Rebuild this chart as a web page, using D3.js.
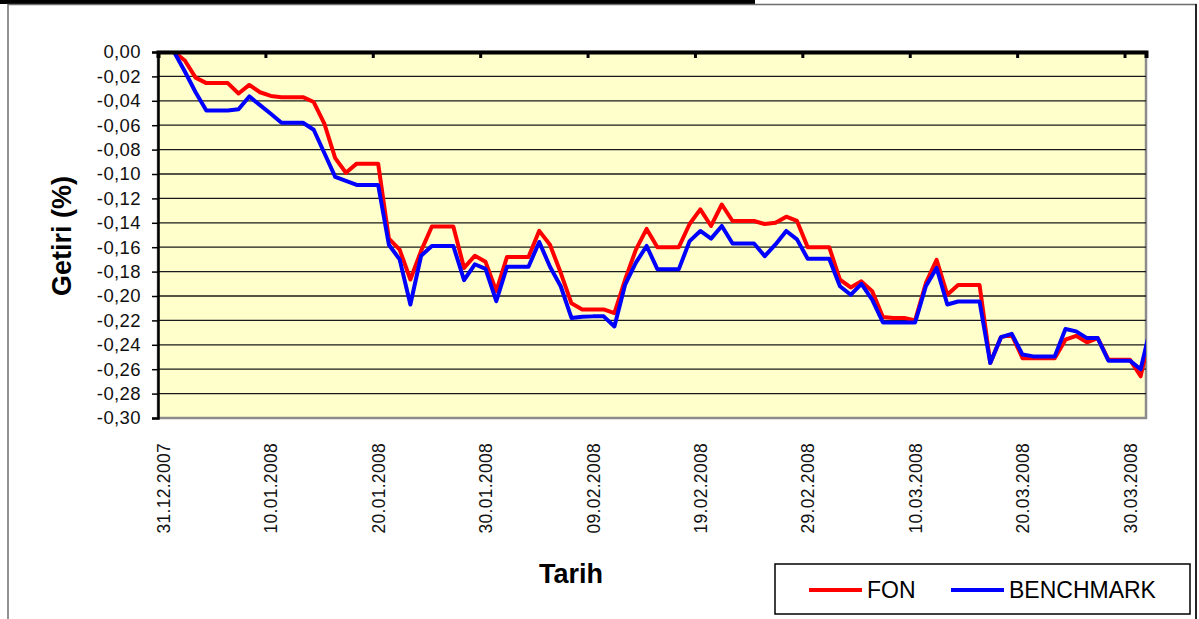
<!DOCTYPE html>
<html>
<head>
<meta charset="utf-8">
<script src="https://cdn.jsdelivr.net/npm/d3@7"></script>
<style>
  body { margin: 0; background: #fff; }
  svg { display: block; font-family: "Liberation Sans", Arial, sans-serif; }
</style>
</head>
<body>
<svg id="chart" width="1199" height="619"></svg>
<script>
// daily values, 30.12.2007 .. 01.04.2008 (first and last fall just outside the axis)
const firstDay = new Date(2007, 11, 30);
const lastDay = new Date(2008, 3, 1);

const fon = [
  0, 0, 0, -0.007, -0.021, -0.0255, -0.0255, -0.0255, -0.034, -0.027,
  -0.033, -0.036, -0.037, -0.037, -0.037, -0.041, -0.059, -0.087, -0.099, -0.0915,
  -0.0915, -0.0915, -0.153, -0.162, -0.1865, -0.163, -0.143, -0.143, -0.143, -0.177,
  -0.167, -0.172, -0.196, -0.168, -0.168, -0.168, -0.1466, -0.158, -0.181, -0.206,
  -0.211, -0.211, -0.211, -0.214, -0.1865, -0.162, -0.145, -0.160, -0.160, -0.160,
  -0.141, -0.129, -0.1426, -0.125, -0.1385, -0.1385, -0.1385, -0.141, -0.140, -0.135,
  -0.1385, -0.160, -0.160, -0.160, -0.1865, -0.193, -0.188, -0.196, -0.2173, -0.218,
  -0.218, -0.220, -0.1895, -0.1704, -0.199, -0.191, -0.191, -0.191, -0.255, -0.2337,
  -0.2318, -0.251, -0.251, -0.251, -0.251, -0.2358, -0.2326, -0.238, -0.2345, -0.2522,
  -0.2522, -0.2522, -0.2658, -0.228
];

const benchmark = [
  0, 0, 0, -0.016, -0.033, -0.048, -0.048, -0.048, -0.047, -0.0364,
  -0.0435, -0.0506, -0.058, -0.058, -0.058, -0.0637, -0.083, -0.1024, -0.1057, -0.109,
  -0.109, -0.109, -0.158, -0.170, -0.207, -0.167, -0.159, -0.159, -0.159, -0.187,
  -0.174, -0.1777, -0.2043, -0.176, -0.176, -0.176, -0.1557, -0.176, -0.192, -0.218,
  -0.217, -0.2167, -0.2167, -0.225, -0.1906, -0.1727, -0.159, -0.178, -0.178, -0.178,
  -0.155, -0.1467, -0.153, -0.1426, -0.157, -0.157, -0.157, -0.1673, -0.1577, -0.1467,
  -0.1536, -0.1695, -0.1695, -0.1695, -0.192, -0.199, -0.190, -0.203, -0.2217, -0.2217,
  -0.2217, -0.2217, -0.192, -0.177, -0.207, -0.2045, -0.2045, -0.2045, -0.255, -0.2337,
  -0.231, -0.248, -0.2495, -0.2495, -0.2495, -0.227, -0.229, -0.2345, -0.2345, -0.253,
  -0.253, -0.253, -0.260, -0.223
];

const xTickLabels = ['31.12.2007', '10.01.2008', '20.01.2008', '30.01.2008', '09.02.2008',
  '19.02.2008', '29.02.2008', '10.03.2008', '20.03.2008', '30.03.2008'];
const yTicks = [0, -0.02, -0.04, -0.06, -0.08, -0.10, -0.12, -0.14, -0.16, -0.18,
  -0.20, -0.22, -0.24, -0.26, -0.28, -0.30];

const seriesNames = ['FON', 'BENCHMARK'];
const seriesColors = ['#ff0000', '#0000ff'];

const days = d3.timeDay.range(firstDay, d3.timeDay.offset(lastDay, 1));
const parseDay = d3.timeParse('%d.%m.%Y');
const noon = d => d3.timeHour.offset(d, 12);

const margins = { top: 52, left: 158, right: 1146, bottom: 418 };

const x = d3.scaleTime()
  .domain([new Date(2007, 11, 31), new Date(2008, 3, 1)])
  .range([margins.left, margins.right]);
const y = d3.scaleLinear().domain([0, -0.30]).range([margins.top, margins.bottom]);

const svg = d3.select('#chart');

// outer chart frame
svg.append('rect').attr('x', 0).attr('y', 0).attr('width', 755).attr('height', 4).attr('fill', '#000');
svg.append('rect').attr('x', 8).attr('y', 4.5).attr('width', 1188).attr('height', 640)
  .attr('fill', 'none').attr('stroke', '#6e6e6e').attr('stroke-width', 1.5);
svg.append('line').attr('x1', 1196).attr('x2', 1196).attr('y1', 4).attr('y2', 619)
  .attr('stroke', '#000').attr('stroke-width', 1.5);

// plot area
svg.append('rect')
  .attr('x', margins.left).attr('y', margins.top)
  .attr('width', margins.right - margins.left).attr('height', margins.bottom - margins.top)
  .attr('fill', '#ffffcc').attr('stroke', '#8c8c8c').attr('stroke-width', 2.5);

svg.append('clipPath').attr('id', 'plotClip').append('rect')
  .attr('x', margins.left).attr('y', margins.top)
  .attr('width', margins.right - margins.left).attr('height', margins.bottom - margins.top);

// gridlines
svg.append('g').selectAll('line').data(yTicks.slice(1, -1)).join('line')
  .attr('x1', margins.left).attr('x2', margins.right)
  .attr('y1', d => y(d)).attr('y2', d => y(d))
  .attr('stroke', '#1a1a1a').attr('stroke-width', 1.3);

// y axis
const yAxis = svg.append('g').attr('transform', 'translate(' + margins.left + ',0)')
  .call(d3.axisLeft(y).tickValues(yTicks).tickSize(6).tickPadding(11)
    .tickFormat(v => v.toFixed(2).replace('.', ',')));
yAxis.select('.domain').attr('stroke', '#000').attr('stroke-width', 2.5);
yAxis.selectAll('.tick line').attr('stroke', '#000').attr('stroke-width', 1.5);
yAxis.selectAll('.tick text').attr('font-size', 18.5).attr('fill', '#111')
  .attr('letter-spacing', 0.4)
  .attr('font-family', '"Liberation Sans", Arial, sans-serif');

// series lines
const line = d3.line().x(d => x(noon(d.day))).y(d => y(d.value));
seriesNames.forEach((name, i) => {
  const values = i === 0 ? fon : benchmark;
  const data = days.map((day, j) => ({ day: day, value: values[j] }));
  svg.append('path')
    .datum(data)
    .attr('clip-path', 'url(#plotClip)')
    .attr('fill', 'none')
    .attr('stroke', seriesColors[i])
    .attr('stroke-width', 4)
    .attr('stroke-linejoin', 'round')
    .attr('d', line);
});

// x axis (crosses at 0, at the top of the plot)
const tickDays = xTickLabels.map(parseDay);
const xAxis = svg.append('g').attr('transform', 'translate(0,' + margins.top + ')')
  .call(d3.axisBottom(x).tickValues(tickDays).tickSize(6).tickFormat(''));
xAxis.select('.domain').attr('stroke', '#000').attr('stroke-width', 4);
xAxis.selectAll('.tick line').attr('stroke', '#000').attr('stroke-width', 3);

// x tick labels, low position
const xLabels = svg.append('g').attr('transform', 'translate(0,' + margins.bottom + ')')
  .call(d3.axisBottom(x).tickValues(tickDays.map(noon)).tickSize(0)
    .tickFormat(d3.timeFormat('%d.%m.%Y')));
xLabels.select('.domain').remove();
xLabels.selectAll('.tick text')
  .attr('font-size', 17.5).attr('fill', '#111')
  .attr('letter-spacing', 0.3)
  .attr('font-family', '"Liberation Sans", Arial, sans-serif')
  .attr('text-anchor', 'end')
  .attr('transform', 'rotate(-90)')
  .attr('x', -25).attr('y', 0).attr('dy', '0.35em');

// axis titles
svg.append('text').attr('x', 571).attr('y', 583).attr('text-anchor', 'middle')
  .attr('font-size', 27).attr('font-weight', 'bold').text('Tarih');
svg.append('text').attr('transform', 'translate(71,236) rotate(-90)').attr('text-anchor', 'middle')
  .attr('font-size', 27).attr('font-weight', 'bold').text('Getiri (%)');

// legend
const legend = svg.append('g');
legend.append('rect').attr('x', 775).attr('y', 564).attr('width', 415).attr('height', 50)
  .attr('fill', '#fff').attr('stroke', '#000').attr('stroke-width', 1.5);
const legendX = [809, 951];
seriesNames.forEach((name, i) => {
  legend.append('line').attr('x1', legendX[i]).attr('x2', legendX[i] + 53)
    .attr('y1', 590).attr('y2', 590)
    .attr('stroke', seriesColors[i]).attr('stroke-width', 4);
  legend.append('text').attr('x', legendX[i] + 58).attr('y', 598)
    .attr('font-size', 23).text(name);
});
</script>
</body>
</html>
